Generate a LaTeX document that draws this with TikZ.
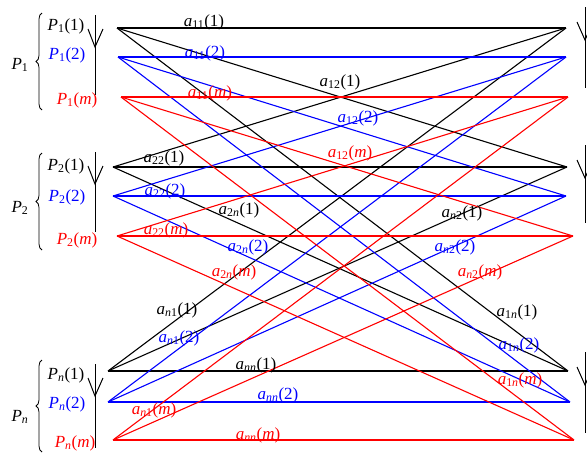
\documentclass[tikz,border=0pt]{standalone}
\usepackage{fontspec}
\setmainfont{Liberation Serif}
\usetikzlibrary{decorations.pathreplacing}
\newcommand{\acoef}[2]{\textit{a}\textsubscript{#1}(#2)}
\newcommand{\pcoef}[2]{\textit{P}\textsubscript{#1}(#2)}

\begin{document}
\begin{tikzpicture}[x=1pt, y=-1pt,
        lbl/.style={font=\fontsize{17}{20}\selectfont, inner sep=0pt},
        wire/.style={line width=1.1pt},
        grp/.style={decorate, decoration={brace, amplitude=6pt}, line width=0.8pt},
        tap/.style={line width=1pt}
      ]
        \useasboundingbox (0,0) rectangle (587,453);
        \clip (0,0) rectangle (587,453);
        % Left ends
        \coordinate (L1-k) at (117,28);
        \coordinate (L1-b) at (118,57);
        \coordinate (L1-r) at (121,97);
        \coordinate (L2-k) at (113,167);
        \coordinate (L2-b) at (113,196);
        \coordinate (L2-r) at (117,236);
        \coordinate (Ln-k) at (108,371);
        \coordinate (Ln-b) at (108,402);
        \coordinate (Ln-r) at (113,440);
        % Right ends
        \coordinate (R1-k) at (566,28);
        \coordinate (R1-b) at (566,57);
        \coordinate (R1-r) at (568,97);
        \coordinate (R2-k) at (567,167);
        \coordinate (R2-b) at (566,196);
        \coordinate (R2-r) at (573,236);
        \coordinate (Rn-k) at (568,371);
        \coordinate (Rn-b) at (570,402);
        \coordinate (Rn-r) at (574,440);
        % Every group to every group
        \foreach \c/\col in {k/black, b/blue, r/red}
          \foreach \g in {1,2,n}
            \foreach \h in {1,2,n}
              \draw[wire, \col] (L\g-\c) -- (R\h-\c);
        % Bars
        \foreach \t/\b in {15/95, 152/232, 364/448} {
          \draw[tap] (95,\t) -- (95,\b);
          \draw[tap] (88,\t+14) -- (95,\t+32) -- (103,\t+14);
        }
        \foreach \t/\b in {7/88, 145/223, 352/433} {
          \draw[tap] (585,\t) -- (585,\b);
          \draw[tap] (577,\t+15) -- (585,\t+33) -- (593,\t+15);
        }
        % Braces
        \draw[grp] (42,110) -- (42,13);
        \draw[grp] (42,250) -- (42,153);
        \draw[grp] (42,452) -- (42,360);
        \node[lbl] (P1) at (20,65) {\textit{P}\textsubscript{1}};
        \node[lbl] (P2) at (20,208) {\textit{P}\textsubscript{2}};
        \node[lbl] (Pn) at (20,417) {\textit{P}\textsubscript{\textit{n}}};
        \node[lbl] (P1k) at (66,26) {\pcoef{1}{1}};
        \node[lbl, blue] (P1b) at (67,55) {\pcoef{1}{2}};
        \node[lbl, red] (P1r) at (77,100) {\pcoef{1}{\textit{m}}};
        \node[lbl] (P2k) at (66,166) {\pcoef{2}{1}};
        \node[lbl, blue] (P2b) at (67,197) {\pcoef{2}{2}};
        \node[lbl, red] (P2r) at (77,240) {\pcoef{2}{\textit{m}}};
        \node[lbl] (Pnk) at (66,375) {\pcoef{\textit{n}}{1}};
        \node[lbl, blue] (Pnb) at (67,404) {\pcoef{\textit{n}}{2}};
        \node[lbl, red] (Pnr) at (75,443) {\pcoef{\textit{n}}{\textit{m}}};
        % Coefficients
        \node[lbl] (a11k) at (204,22) {\acoef{11}{1}};
        \node[lbl, blue] (a11b) at (205,53) {\acoef{11}{2}};
        \node[lbl, red] (a11r) at (210,93) {\acoef{11}{\textit{m}}};
        \node[lbl] (a12k) at (340,82) {\acoef{12}{1}};
        \node[lbl, blue] (a12b) at (358,118) {\acoef{12}{2}};
        \node[lbl, red] (a12r) at (350,153) {\acoef{12}{\textit{m}}};
        \node[lbl] (a1nk) at (517,312) {\acoef{1\textit{n}}{1}};
        \node[lbl, blue] (a1nb) at (519,345) {\acoef{1\textit{n}}{2}};
        \node[lbl, red] (a1nr) at (520,380) {\acoef{1\textit{n}}{\textit{m}}};
        \node[lbl] (a22k) at (164,158) {\acoef{22}{1}};
        \node[lbl, blue] (a22b) at (165,191) {\acoef{22}{2}};
        \node[lbl, red] (a22r) at (166,230) {\acoef{22}{\textit{m}}};
        \node[lbl] (a2nk) at (239,210) {\acoef{2\textit{n}}{1}};
        \node[lbl, blue] (a2nb) at (248,247) {\acoef{2\textit{n}}{2}};
        \node[lbl, red] (a2nr) at (234,272) {\acoef{2\textit{n}}{\textit{m}}};
        \node[lbl] (an1k) at (177,310) {\acoef{\textit{n}1}{1}};
        \node[lbl, blue] (an1b) at (179,338) {\acoef{\textit{n}1}{2}};
        \node[lbl, red] (an1r) at (154,410) {\acoef{\textit{n}1}{\textit{m}}};
        \node[lbl] (an2k) at (462,213) {\acoef{\textit{n}2}{1}};
        \node[lbl, blue] (an2b) at (455,247) {\acoef{\textit{n}2}{2}};
        \node[lbl, red] (an2r) at (480,272) {\acoef{\textit{n}2}{\textit{m}}};
        \node[lbl] (annk) at (256,365) {\acoef{\textit{nn}}{1}};
        \node[lbl, blue] (annb) at (278,395) {\acoef{\textit{nn}}{2}};
        \node[lbl, red] (annr) at (258,435) {\acoef{\textit{nn}}{\textit{m}}};
      \end{tikzpicture}
\end{document}
